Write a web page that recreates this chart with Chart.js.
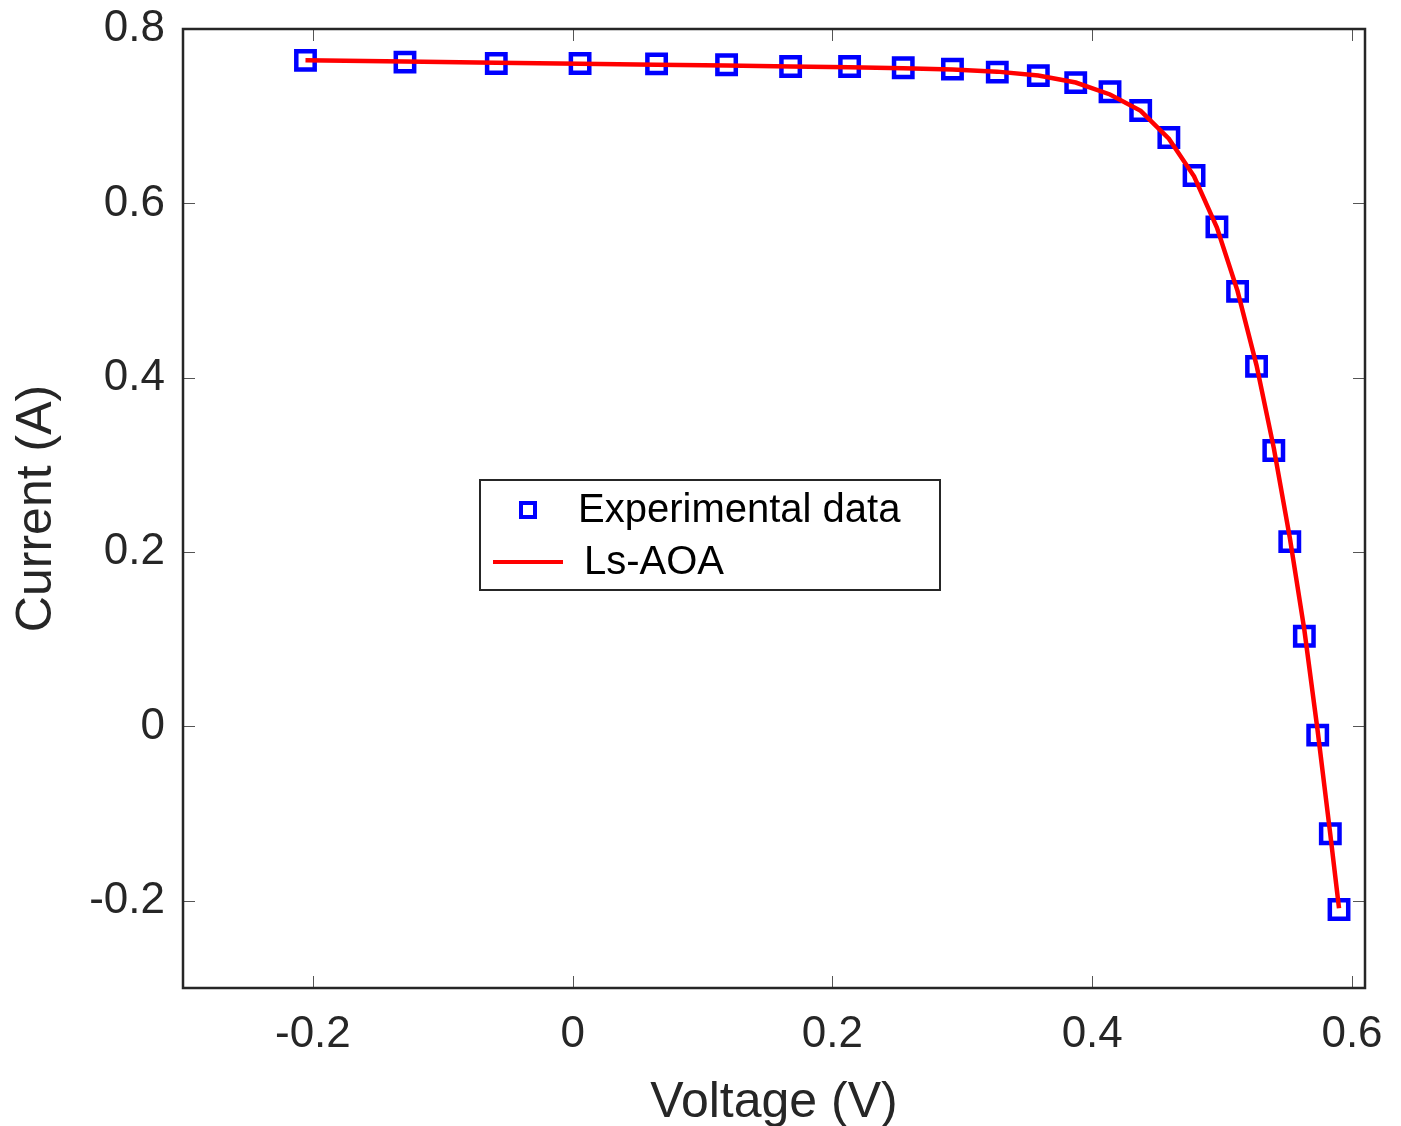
<!DOCTYPE html>
<html>
<head>
<meta charset="utf-8">
<script src="https://cdn.jsdelivr.net/npm/chart.js@4.4.0/dist/chart.umd.min.js"></script>
<style>
  html, body { margin: 0; padding: 0; background: #fff; }
  canvas { display: block; }
</style>
</head>
<body>
<canvas id="ivChart" width="1401" height="1126"></canvas>
<script>
// I-V curve: measured points vs. fitted model
const voltage = [-0.2057, -0.1291, -0.0588, 0.0057, 0.0646, 0.1185, 0.1678, 0.2132, 0.2545,
    0.2924, 0.3269, 0.3585, 0.3873, 0.4137, 0.4373, 0.4590, 0.4784, 0.4960, 0.5119,
    0.5265, 0.5398, 0.5521, 0.5633, 0.5736, 0.5833, 0.5900];
const currentMeasured = [0.7640, 0.7620, 0.7605, 0.7605, 0.7600, 0.7590, 0.7570, 0.7570, 0.7555,
    0.7540, 0.7505, 0.7465, 0.7385, 0.7280, 0.7065, 0.6755, 0.6320, 0.5730, 0.4990,
    0.4130, 0.3165, 0.2120, 0.1035, -0.0100, -0.1230, -0.2100];
const currentFitted = [0.7641, 0.7627, 0.7614, 0.7601, 0.7590, 0.7580, 0.7571, 0.7561, 0.7551,
    0.7536, 0.7511, 0.7467, 0.7386, 0.7249, 0.7062, 0.6742, 0.6311, 0.5722, 0.4993,
    0.4142, 0.3193, 0.2165, 0.1107, -0.0056, -0.1239, -0.2084];
const xTicks = [-0.2, 0, 0.2, 0.4, 0.6];
const yTicks = [-0.2, 0, 0.2, 0.4, 0.6, 0.8];
const seriesLabels = ['Experimental data', 'Ls-AOA'];

const FONT = "'Liberation Sans', Arial, Helvetica, sans-serif";
const AXIS_COLOR = '#262626';

function fmtTick(v) {
    const r = Math.round(v * 10) / 10;
    return r === 0 ? '0' : r.toFixed(1);
}

// MATLAB-like box with inward ticks on all four sides
const boxTicks = {
    id: 'boxTicks',
    afterDraw(chart) {
        const { ctx, chartArea: a, scales } = chart;
        const len = 12;
        ctx.save();
        ctx.strokeStyle = '#555';
        ctx.lineWidth = 1;
        ctx.beginPath();
        xTicks.forEach(v => {
            const x = Math.round(scales.x.getPixelForValue(v)) + 0.5;
            ctx.moveTo(x, a.bottom); ctx.lineTo(x, a.bottom - len);
            ctx.moveTo(x, a.top); ctx.lineTo(x, a.top + len);
        });
        yTicks.forEach(v => {
            const y = Math.round(scales.y.getPixelForValue(v)) + 0.5;
            ctx.moveTo(a.left, y); ctx.lineTo(a.left + len, y);
            ctx.moveTo(a.right, y); ctx.lineTo(a.right - len, y);
        });
        ctx.stroke();
        ctx.strokeStyle = AXIS_COLOR;
        ctx.lineWidth = 2.5;
        ctx.strokeRect(a.left, a.top, a.right - a.left, a.bottom - a.top);
        ctx.restore();
    }
};

// legend box placed inside the plot
const boxLegend = {
    id: 'boxLegend',
    afterDraw(chart) {
        const ctx = chart.ctx;
        const bx = 480, by = 480, bw = 460, bh = 110;
        ctx.save();
        ctx.fillStyle = '#fff';
        ctx.fillRect(bx, by, bw, bh);
        ctx.strokeStyle = AXIS_COLOR;
        ctx.lineWidth = 2;
        ctx.strokeRect(bx, by, bw, bh);

        const pts = chart.data.datasets[1];
        const line = chart.data.datasets[0];
        // marker row
        ctx.strokeStyle = pts.borderColor;
        ctx.lineWidth = 4;
        ctx.strokeRect(528 - 7, 510 - 7, 14, 14);
        // line row
        ctx.strokeStyle = line.borderColor;
        ctx.lineWidth = 4;
        ctx.beginPath();
        ctx.moveTo(493, 562); ctx.lineTo(563, 562);
        ctx.stroke();

        ctx.fillStyle = '#000';
        ctx.font = '40px ' + FONT;
        ctx.textBaseline = 'middle';
        ctx.textAlign = 'left';
        ctx.fillText(pts.label, 578, 511);
        ctx.fillText(line.label, 584, 563);
        ctx.restore();
    }
};

new Chart(document.getElementById('ivChart').getContext('2d'), {
    type: 'scatter',
    data: {
        datasets: [
            {
                label: seriesLabels[1],
                data: voltage.map((v, i) => ({ x: v, y: currentFitted[i] })),
                showLine: true,
                borderColor: '#ff0000',
                borderWidth: 4.5,
                pointRadius: 0,
                tension: 0,
                order: 0
            },
            {
                label: seriesLabels[0],
                data: voltage.map((v, i) => ({ x: v, y: currentMeasured[i] })),
                showLine: false,
                pointStyle: 'rect',
                pointRadius: 13,
                borderColor: '#0000ff',
                backgroundColor: 'rgba(0,0,0,0)',
                borderWidth: 4.5,
                order: 1
            }
        ]
    },
    options: {
        responsive: false,
        animation: false,
        devicePixelRatio: 1,
        layout: { padding: { top: 29, right: 36, left: 0, bottom: 0 } },
        plugins: {
            legend: { display: false },
            tooltip: { enabled: false }
        },
        scales: {
            x: {
                type: 'linear',
                min: -0.3,
                max: 0.61,
                afterBuildTicks: s => { s.ticks = xTicks.map(v => ({ value: v })); },
                afterFit: s => { s.height = 138; s.paddingLeft = 0; s.paddingRight = 0; },
                grid: { display: false, drawTicks: false },
                border: { display: false },
                ticks: {
                    autoSkip: false,
                    maxRotation: 0,
                    padding: 20,
                    color: AXIS_COLOR,
                    font: { family: FONT, size: 44 },
                    callback: v => fmtTick(v)
                },
                title: {
                    display: true,
                    text: 'Voltage (V)',
                    color: AXIS_COLOR,
                    font: { family: FONT, size: 50 },
                    padding: { top: 0, bottom: -7 }
                }
            },
            y: {
                type: 'linear',
                min: -0.3,
                max: 0.8,
                afterBuildTicks: s => { s.ticks = yTicks.map(v => ({ value: v })); },
                afterFit: s => { s.width = 183; s.paddingTop = 0; s.paddingBottom = 0; },
                grid: { display: false, drawTicks: false },
                border: { display: false },
                ticks: {
                    autoSkip: false,
                    padding: 18,
                    color: AXIS_COLOR,
                    font: { family: FONT, size: 44 },
                    callback: v => fmtTick(v)
                },
                title: {
                    display: true,
                    text: 'Current (A)',
                    color: AXIS_COLOR,
                    font: { family: FONT, size: 50 },
                    padding: { top: 7, bottom: 0 }
                }
            }
        }
    },
    plugins: [boxTicks, boxLegend]
});
</script>
</body>
</html>
